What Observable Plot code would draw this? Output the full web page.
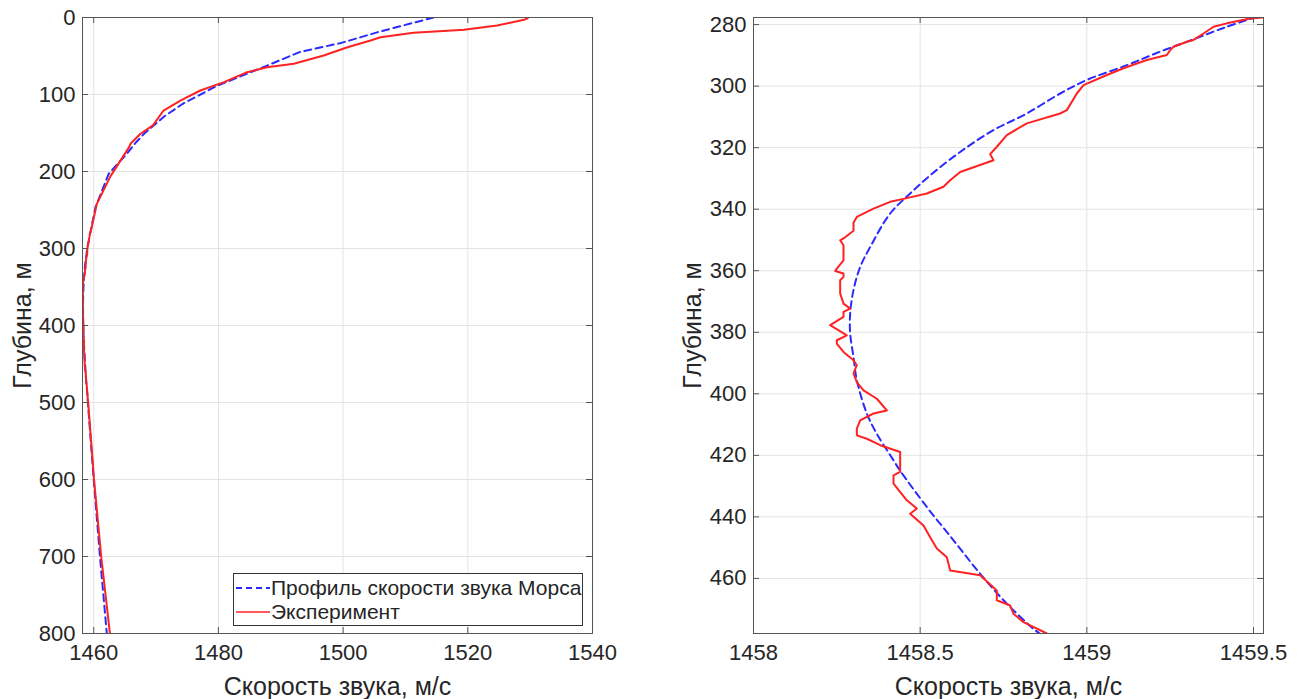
<!DOCTYPE html>
<html><head><meta charset="utf-8">
<script src="https://cdn.jsdelivr.net/npm/d3@7"></script>
<script src="https://cdn.jsdelivr.net/npm/@observablehq/plot@0.6"></script>
<style>
body{margin:0;background:#fff;font-family:"Liberation Sans",Arial,sans-serif;}
#wrap{position:relative;width:1303px;height:699px;overflow:hidden;background:#fff;}
#left{position:absolute;left:0;top:0;}
#right{position:absolute;left:660px;top:0;}
#legend{position:absolute;left:233px;top:573px;width:348px;height:51px;border:1px solid #333;background:#fff;color:#262626;font-size:21px;}
#legend .row{position:absolute;left:0;height:24px;display:flex;align-items:center;white-space:nowrap;}
#legend svg{display:block;margin-right:1px;}
</style></head>
<body><div id="wrap"><div id="left"></div><div id="right"></div><div id="legend"></div></div>
<script>
// ---- data: [depth (m), speed (m/s)] ----
const munkUpper = [[0,1514.5],[18.5,1505.8],[33,1499.7],[45,1493.0],[62.5,1487.8],[89,1479.7],[112,1474.3],[128,1471.4],[150,1468.2],[162,1466.8],[177,1465.3],[203,1462.4],[246,1460.3]];
const expUpper = [[1,1529.6],[3,1529.0],[10.4,1524.7],[16,1519.4],[19.9,1511.3],[25.6,1506.0],[29.9,1504.4],[38.6,1500.7],[49.4,1496.9],[60,1492.1],[64.5,1487.8],[71,1484.6],[84,1480.9],[94.8,1477.1],[108,1473.9],[120.8,1471.2],[140,1469.5],[151,1467.5],[164,1465.9],[168,1465.7],[206,1462.7],[242,1460.5]];
const munkZoom = [[277.5,1459.51],[280.7,1459.42],[284.8,1459.32],[288.8,1459.22],[293.2,1459.12],[298,1459.0],[302.4,1458.92],[308.9,1458.82],[314.3,1458.72],[321.4,1458.62],[329,1458.53],[334.9,1458.47],[341.4,1458.41],[352.3,1458.35],[358.8,1458.32],[366.3,1458.30],[373.9,1458.29],[380.4,1458.29],[388,1458.30],[395.6,1458.31],[406.4,1458.34],[413,1458.37],[421.6,1458.42],[425,1458.44],[436.8,1458.52],[447.6,1458.60],[458.5,1458.68],[468.2,1458.76],[476.4,1458.84],[478,1458.86]];
const expZoom = [[277.7,1459.53],[278,1459.49],[279.6,1459.42],[280.7,1459.38],[282.9,1459.35],[285,1459.32],[285.6,1459.30],[287.2,1459.26],[288.3,1459.25],[289.9,1459.24],[291.5,1459.18],[294.2,1459.11],[296.4,1459.06],[299.7,1458.99],[302.4,1458.97],[307.8,1458.94],[308.9,1458.92],[312.1,1458.82],[315.9,1458.76],[319.7,1458.73],[322.1,1458.71],[324.1,1458.72],[327.9,1458.62],[330.6,1458.59],[332.7,1458.57],[334.9,1458.52],[336.4,1458.46],[337.6,1458.41],[339.8,1458.36],[342.5,1458.31],[344.4,1458.30],[347,1458.30],[349.5,1458.27],[350.1,1458.26],[351.7,1458.27],[356.6,1458.27],[359.3,1458.25],[360.1,1458.245],[360.9,1458.27],[362,1458.27],[363.1,1458.26],[367.4,1458.26],[370.7,1458.27],[372.3,1458.29],[373.4,1458.27],[375,1458.27],[377.7,1458.23],[381,1458.28],[382.6,1458.25],[383.7,1458.25],[386.4,1458.27],[389.1,1458.30],[390.7,1458.31],[393.4,1458.30],[396.2,1458.31],[398.9,1458.33],[401.6,1458.37],[405.4,1458.40],[406.4,1458.36],[408.6,1458.32],[411.3,1458.31],[413.5,1458.31],[414.6,1458.34],[416.7,1458.38],[418.9,1458.44],[420.5,1458.44],[425.4,1458.44],[426.5,1458.42],[429.2,1458.42],[434.6,1458.46],[437.3,1458.49],[439,1458.47],[442.8,1458.51],[446.6,1458.53],[450.3,1458.55],[453.1,1458.58],[457.4,1458.59],[459,1458.68],[463.9,1458.73],[467.1,1458.73],[468.8,1458.77],[471.5,1458.78],[474.2,1458.81],[477.9,1458.88]];
const munkLower = [[520,1459.25],[600,1460.0],[700,1461.0],[800,1462.1]];
const expLower = [[520,1459.3],[600,1460.05],[700,1461.2],[800,1462.6]];

const leftXTicks = [1460,1480,1500,1520,1540];
const leftYTicks = [0,100,200,300,400,500,600,700,800];
const rightXTicks = [1458,1458.5,1459,1459.5];
const rightYTicks = [280,300,320,340,360,380,400,420,440,460];

const xLabel = "Скорость звука, м/с";
const yLabel = "Глубина, м";
const seriesNames = ["Профиль скорости звука Морса","Эксперимент"];

const BLUE = "#2a2aff", RED = "#ff2222";
const toRows = arr => arr.map(([depth, speed]) => ({depth, speed}));

function panel({width, marginLeft, marginRight, labelX, xDomain, yDomain, xTicks, yTicks, munk, exp, curveBlue}) {
  const H = 699, mt = 17, mb = 66;
  const ph = H - mt - mb, pw = width - marginLeft - marginRight;
  const fmt = d => String(d);
  return Plot.plot({
    width, height: H, marginTop: mt, marginBottom: mb, marginLeft, marginRight,
    style: {fontFamily: '"Liberation Sans", Arial, sans-serif', fontSize: "22px", color: "#262626", background: "white", overflow: "visible"},
    x: {domain: xDomain}, y: {domain: yDomain, reverse: true},
    marks: [
      Plot.gridX(xTicks, {stroke: "#e4e4e4", strokeOpacity: 1}),
      Plot.gridY(yTicks, {stroke: "#e4e4e4", strokeOpacity: 1}),
      Plot.line(munk, {x: "speed", y: "depth", stroke: BLUE, strokeWidth: 2, strokeDasharray: "7,4.5", curve: curveBlue, clip: true}),
      Plot.line(exp, {x: "speed", y: "depth", stroke: RED, strokeWidth: 2, clip: true}),
      Plot.ruleX(xTicks, {x: d => d, insetTop: ph - 6, stroke: "#555"}),
      Plot.ruleX(xTicks, {x: d => d, insetBottom: ph - 6, stroke: "#555"}),
      Plot.ruleY(yTicks, {y: d => d, insetRight: pw - 6, stroke: "#555"}),
      Plot.ruleY(yTicks, {y: d => d, insetLeft: pw - 6, stroke: "#555"}),
      Plot.frame({stroke: "#555"}),
      Plot.axisX(xTicks, {tickSize: 0, tickPadding: 11, tickFormat: fmt, label: null, fontSize: 22}),
      Plot.axisY(yTicks, {tickSize: 0, tickPadding: 7, tickFormat: fmt, label: null, fontSize: 22}),
      Plot.text([xLabel], {frameAnchor: "bottom", dy: 53, text: d => d, fontSize: 25, textAnchor: "middle", lineAnchor: "middle", fill: "#262626"}),
      Plot.text([yLabel], {frameAnchor: "left", dx: -(marginLeft - labelX), rotate: -90, text: d => d, fontSize: 25, textAnchor: "middle", lineAnchor: "middle", fill: "#262626"})
    ]
  });
}

const leftMunk = toRows([...munkUpper, ...munkZoom, ...munkLower]);
const leftExp = toRows([...expUpper, ...expZoom, ...expLower]);

document.getElementById("left").append(panel({
  width: 620, marginLeft: 82, marginRight: 28, labelX: 22,
  xDomain: [1458.2, 1540], yDomain: [0, 800],
  xTicks: leftXTicks, yTicks: leftYTicks,
  munk: leftMunk, exp: leftExp, curveBlue: "linear"
}));
document.getElementById("right").append(panel({
  width: 643, marginLeft: 93, marginRight: 40, labelX: 32,
  xDomain: [1458, 1459.53], yDomain: [277.7, 477.9],
  xTicks: rightXTicks, yTicks: rightYTicks,
  munk: toRows(munkZoom), exp: toRows(expZoom), curveBlue: "catmull-rom"
}));

// legend
const lg = document.getElementById("legend");
seriesNames.forEach((name, i) => {
  const row = document.createElement("div");
  row.className = "row";
  row.style.top = (2 + i * 24) + "px";
  const ns = "http://www.w3.org/2000/svg";
  const s = document.createElementNS(ns, "svg");
  s.setAttribute("width", 36); s.setAttribute("height", 10);
  const l = document.createElementNS(ns, "line");
  l.setAttribute("x1", 2); l.setAttribute("x2", 36); l.setAttribute("y1", 5); l.setAttribute("y2", 5);
  l.setAttribute("stroke", i === 0 ? BLUE : RED);
  l.setAttribute("stroke-width", i === 0 ? 2 : 1.5);
  if (i === 0) l.setAttribute("stroke-dasharray", "6,4");
  s.append(l);
  const t = document.createElement("span");
  t.textContent = name;
  row.append(s, t);
  lg.append(row);
});
</script>
</body></html>
